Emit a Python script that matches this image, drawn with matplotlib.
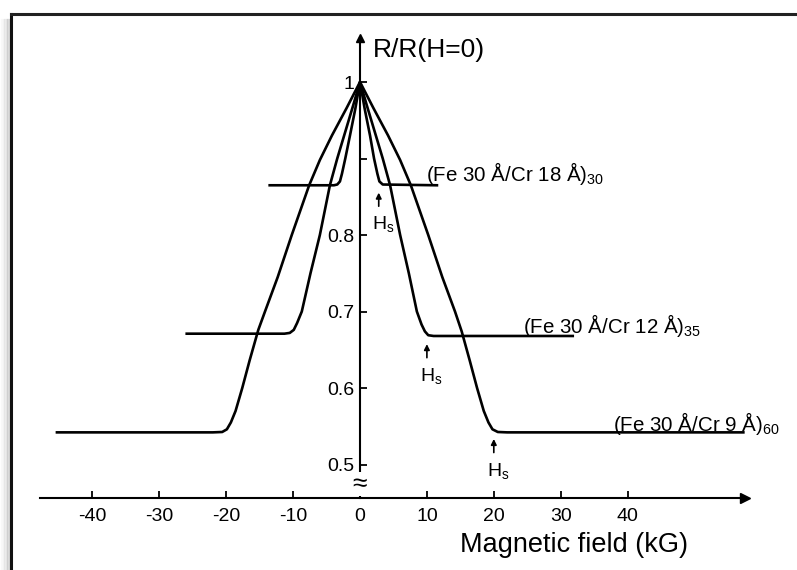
import matplotlib
matplotlib.use('Agg')
import matplotlib.pyplot as plt
from matplotlib.lines import Line2D

plt.rcParams['font.family'] = ['Liberation Sans', 'DejaVu Sans']
plt.rcParams['mathtext.fontset'] = 'custom'
plt.rcParams['mathtext.rm'] = 'Liberation Sans'
plt.rcParams['axes.unicode_minus'] = False

# Fe 30 A / Cr 9 A (x60)
h_cr9 = [-45.3, -22.0, -20.6, -19.9, -19.3, -18.6, -17.6, -16.5, -15.2, -14.2, -12.3, -10.2,
         -7.6, -6.0, -4.2, -2.0, 0.0,
         2.0, 4.2, 6.0, 7.6, 10.2, 12.3, 14.2, 15.2, 16.4, 17.5, 18.5, 19.2, 19.8, 20.6, 22.0, 57.3]
r_cr9 = [0.542, 0.542, 0.5425, 0.546, 0.555, 0.570, 0.600, 0.636, 0.676, 0.700, 0.745, 0.800,
         0.865, 0.898, 0.930, 0.966, 1.000,
         0.966, 0.930, 0.898, 0.865, 0.800, 0.745, 0.700, 0.674, 0.636, 0.600, 0.570, 0.555, 0.546, 0.5425, 0.542, 0.542]

# Fe 30 A / Cr 12 A (x35)
h_cr12 = [-25.9, -11.3, -10.5, -9.9, -9.4, -8.7, -7.4, -6.0, -4.5, -3.4, -2.2, -1.0, 0.0,
          1.0, 2.2, 3.4, 4.5, 6.0, 7.3, 8.5, 9.2, 9.7, 10.2, 11.0, 31.8]
r_cr12 = [0.671, 0.671, 0.672, 0.676, 0.685, 0.700, 0.750, 0.800, 0.865, 0.900, 0.935, 0.970, 1.000,
          0.970, 0.935, 0.900, 0.865, 0.800, 0.750, 0.700, 0.683, 0.674, 0.669, 0.668, 0.668]

# Fe 30 A / Cr 18 A (x30)
h_cr18 = [-13.5, -3.9, -3.4, -3.0, -2.7, -2.2, -1.5, -0.7, 0.0,
          0.7, 1.5, 2.1, 2.6, 2.9, 3.4, 11.5]
r_cr18 = [0.865, 0.865, 0.866, 0.870, 0.880, 0.900, 0.930, 0.965, 1.000,
          0.965, 0.930, 0.900, 0.880, 0.870, 0.866, 0.865]

labels = [r'(Fe 30 Å/Cr 18 Å)$_\mathregular{30}$',
          r'(Fe 30 Å/Cr 12 Å)$_\mathregular{35}$',
          r'(Fe 30 Å/Cr 9 Å)$_\mathregular{60}$']
label_pos = [(9.9, 0.881), (24.4, 0.682), (37.8, 0.553)]

# saturation fields marked with arrows
hs_field = [2.8, 10.0, 20.0]
hs_tip = [0.859, 0.661, 0.537]

xticks = [-40, -30, -20, -10, 0, 10, 20, 30, 40]
yticks = [0.5, 0.6, 0.7, 0.8, 0.9, 1.0]
ylabels = ['0.5', '0.6', '0.7', '0.8', '', '1']

x_axis_level = 0.4556
y_top = 1.0575
x_left, x_right = -47.8, 57.5

fig = plt.figure(figsize=(7.97, 5.70), dpi=100)
ax = fig.add_axes([0, 0, 1, 1])
ax.set_xlim(-360 / 6.69, 437 / 6.69)
ax.set_ylim(1 - 488 / 765, 1 + 82 / 765)
ax.patch.set_visible(False)

for h, r in [(h_cr9, r_cr9), (h_cr12, r_cr12), (h_cr18, r_cr18)]:
    ax.plot(h, r, color='k', lw=1.9, solid_joinstyle='round')

# axes through the origin
ax.spines['top'].set_visible(False)
ax.spines['right'].set_visible(False)
ax.spines['left'].set_position(('data', 0))
ax.spines['bottom'].set_position(('data', x_axis_level))
ax.spines['left'].set_bounds(x_axis_level, y_top)
ax.spines['bottom'].set_bounds(x_left, x_right)
for s in ['left', 'bottom']:
    ax.spines[s].set_linewidth(1.5)

ax.set_xticks(xticks)
ax.set_yticks(yticks)
ax.set_yticklabels(ylabels)
ax.tick_params(axis='both', direction='in', length=5, width=1.3, labelsize=14)
ax.tick_params(axis='x', pad=7)
ax.tick_params(axis='y', pad=4)

ax.plot(x_right, x_axis_level, marker='>', ms=7, color='k', clip_on=False)
ax.plot(0, y_top, marker='^', ms=6, color='k', clip_on=False)

# axis break sign
ax.text(0, 0.474, '≈', ha='center', va='center', fontsize=19,
        bbox=dict(fc='white', ec='none', pad=0))

ax.text(1.9, 1.042, 'R/R(H=0)', fontsize=19, va='center', ha='left')
ax.text(32.0, 0.395, 'Magnetic field (kG)', fontsize=19.5, va='center', ha='center')

for txt, (x, y) in zip(labels, label_pos):
    ax.text(x, y, txt, fontsize=14.8, va='center', ha='left')

for h, y in zip(hs_field, hs_tip):
    ax.annotate('', xy=(h, y), xytext=(h, y - 0.025),
                arrowprops=dict(arrowstyle='-|>', color='k', lw=1.2, mutation_scale=8))
    ax.text(h + 0.7, y - 0.046, r'H$_\mathregular{s}$', fontsize=14, ha='center', va='center')

# picture frame with shadow on the left
for i, a in enumerate([0.05, 0.08, 0.12, 0.17, 0.24, 0.32]):
    fig.add_artist(Line2D([(2 + i * 1.5) / 797] * 2, [0, 1 - 20 / 570],
                          color='gray', alpha=a, lw=1.6, transform=fig.transFigure))
fig.add_artist(Line2D([11 / 797, 11 / 797], [0, 1 - 14 / 570], color='#111111', lw=2.2,
                      transform=fig.transFigure))
fig.add_artist(Line2D([11 / 797, 1], [1 - 14 / 570, 1 - 14 / 570], color='#222222', lw=2.2,
                      transform=fig.transFigure))

fig.savefig('out.png', dpi=100)
